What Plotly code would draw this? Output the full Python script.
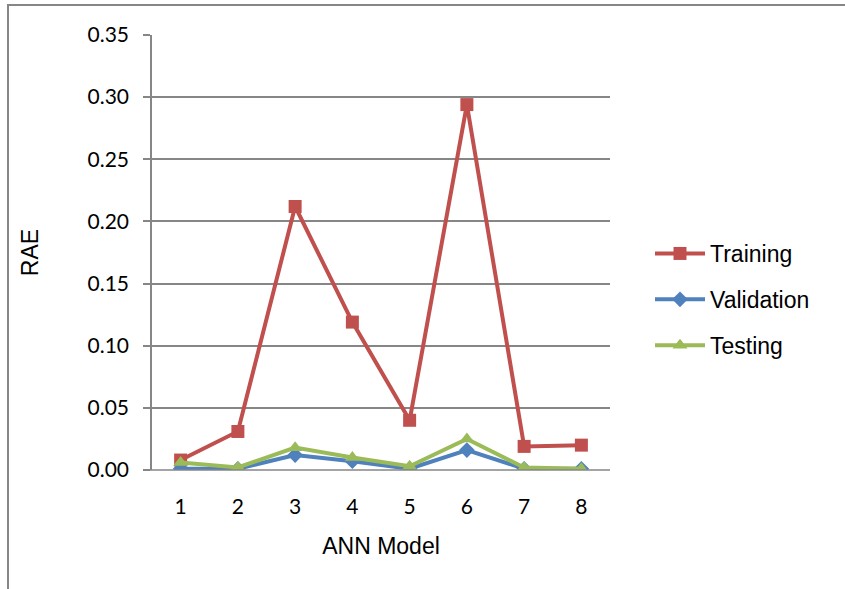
import plotly.graph_objects as go

models = [1, 2, 3, 4, 5, 6, 7, 8]
training = [0.008, 0.031, 0.212, 0.119, 0.040, 0.294, 0.019, 0.020]
validation = [0.001, 0.001, 0.012, 0.007, 0.001, 0.016, 0.001, 0.001]
testing = [0.006, 0.002, 0.018, 0.010, 0.003, 0.025, 0.002, 0.001]
y_ticks = [0, 0.05, 0.10, 0.15, 0.20, 0.25, 0.30, 0.35]

fig = go.Figure()
fig.add_trace(go.Scatter(x=models, y=training, name="Training", mode="lines+markers",
                         legendgroup="a",
                         line=dict(color="#C0504D", width=4),
                         marker=dict(symbol="square", size=13, color="#C0504D")))
fig.add_trace(go.Scatter(x=models, y=validation, name="Validation", mode="lines+markers",
                         legendgroup="b",
                         line=dict(color="#4F81BD", width=4),
                         marker=dict(symbol="diamond", size=12, color="#4F81BD")))
fig.add_trace(go.Scatter(x=models, y=testing, name="Testing", mode="lines+markers",
                         legendgroup="c",
                         line=dict(color="#9BBB59", width=4),
                         marker=dict(symbol="triangle-up", size=13, color="#9BBB59")))

L, R, T, B = 152, 610, 35, 470
W, H = 845, 589

def px(x):
    return (x - L) / (R - L)

def py(y):
    return (B - y) / (B - T)

fig.update_layout(
    width=W, height=H,
    margin=dict(l=L, r=W - R, t=T, b=H - B),
    plot_bgcolor="white", paper_bgcolor="white",
    showlegend=True,
    legend=dict(x=px(650), y=py(232), xanchor="left", yanchor="top",
                font=dict(family="Liberation Sans, Arial", size=23, color="black"),
                itemwidth=50, tracegroupgap=13, bgcolor="rgba(0,0,0,0)"),
    xaxis=dict(range=[0.5, 8.5], tickmode="array", tickvals=models,
               ticktext=[str(m) for m in models], showgrid=False, zeroline=False,
               showline=False, ticks="", ticklabelstandoff=22,
               tickfont=dict(family="Lato, Carlito, Calibri", size=21, color="black"),
               title=dict(text="ANN Model", font=dict(family="Liberation Sans, Arial", size=23, color="black"),
                          standoff=20)),
    yaxis=dict(range=[0, 0.35], tickmode="array", tickvals=y_ticks,
               ticktext=["%.2f" % v for v in y_ticks],
               showgrid=True, gridcolor="#868686", gridwidth=1.5,
               zeroline=False, showline=True, linecolor="#868686", linewidth=1.5,
               ticks="outside", ticklen=7, tickcolor="#868686", tickwidth=1.5,
               ticklabelstandoff=10,
               tickfont=dict(family="Lato, Carlito, Calibri", size=21, color="black"),
               title=dict(text="RAE", font=dict(family="Liberation Sans, Arial", size=23, color="black"),
                          standoff=42)),
    shapes=[
        dict(type="rect", xref="paper", yref="paper",
             x0=px(8), x1=px(900), y0=py(650), y1=py(5),
             line=dict(color="#868686", width=2), fillcolor="rgba(0,0,0,0)", layer="below"),
        dict(type="line", xref="paper", yref="paper",
             x0=px(144), x1=px(610), y0=0, y1=0,
             line=dict(color="#868686", width=1.5)),
    ],
)

fig.write_html("out.html")
